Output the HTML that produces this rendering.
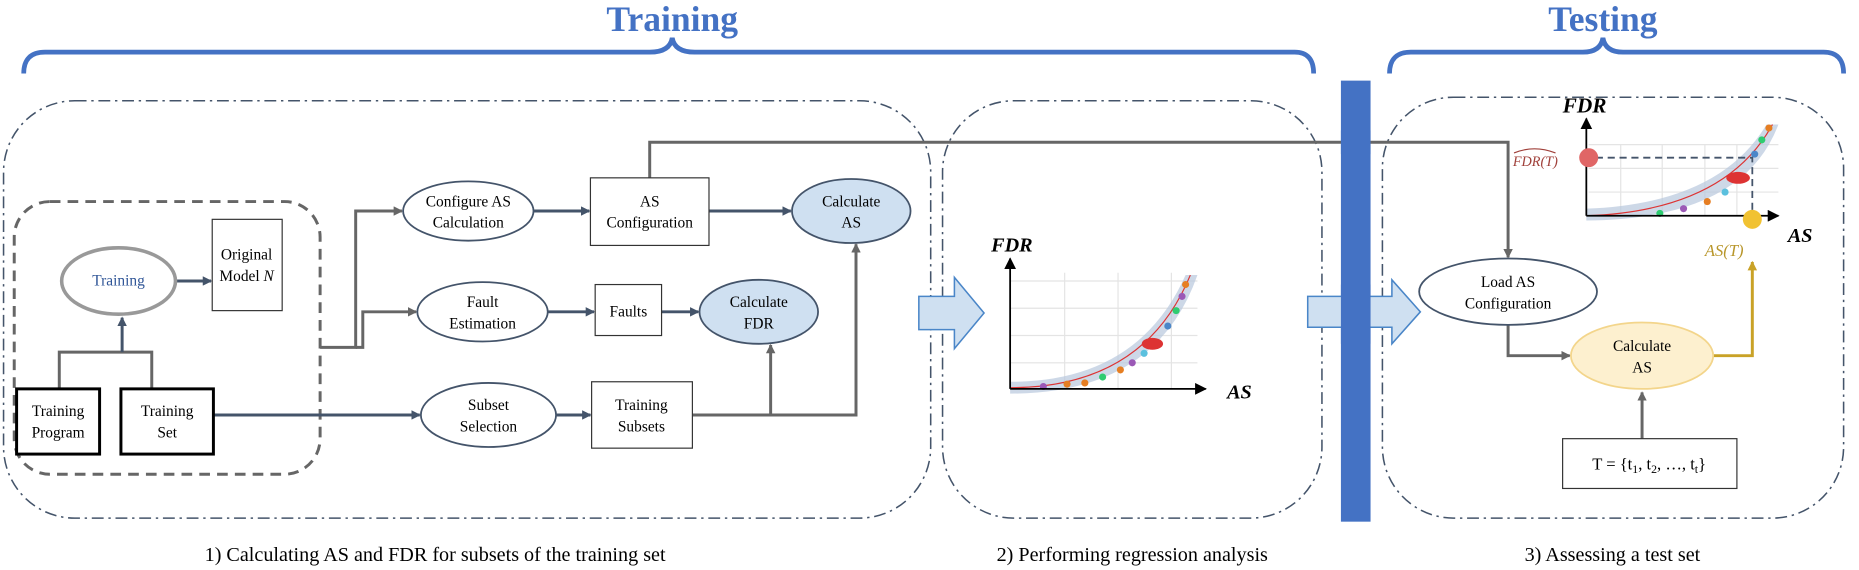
<!DOCTYPE html>
<html><head><meta charset="utf-8"><style>
body{margin:0;background:#fff}
svg{display:block}
text{font-family:"Liberation Serif",serif}
</style></head><body>
<svg width="1859" height="570" viewBox="0 0 1859 570" xmlns="http://www.w3.org/2000/svg">
<defs>
<marker id="ag" markerWidth="8" markerHeight="8" refX="7" refY="4" orient="auto" markerUnits="userSpaceOnUse"><path d="M0,0 L8,4 L0,8 z" fill="#666"/></marker>
<marker id="an" markerWidth="8" markerHeight="8" refX="7" refY="4" orient="auto" markerUnits="userSpaceOnUse"><path d="M0,0 L8,4 L0,8 z" fill="#44546a"/></marker>
<marker id="ak" markerWidth="10" markerHeight="10" refX="9" refY="5" orient="auto" markerUnits="userSpaceOnUse"><path d="M0,0 L10,5 L0,10 z" fill="#000"/></marker>
<marker id="ay" markerWidth="8" markerHeight="8" refX="7" refY="4" orient="auto" markerUnits="userSpaceOnUse"><path d="M0,0 L8,4 L0,8 z" fill="#c9a227"/></marker>
</defs>
<g transform="scale(1.1856)">
<text x="567" y="26" font-size="30" font-weight="bold" fill="#4472c4" text-anchor="middle">Training</text>
<text x="1352" y="26" font-size="30" font-weight="bold" fill="#4472c4" text-anchor="middle">Testing</text>
<path d="M20,62 Q20,44 38,44 L548,44 Q565,44 567,32 Q569,44 586,44 L1092,44 Q1108,44 1108,62" fill="none" stroke="#4472c4" stroke-width="4"/>
<path d="M1172,62 Q1172,44 1190,44 L1335,44 Q1350,44 1352,32 Q1354,44 1369,44 L1538,44 Q1555,44 1555,62" fill="none" stroke="#4472c4" stroke-width="4"/>

<g fill="none" stroke="#44546a" stroke-width="1.3" stroke-dasharray="10,4,2,4">
<rect x="3" y="85" width="782" height="352" rx="60"/>
<rect x="795" y="85" width="320" height="352" rx="60"/>
<rect x="1166" y="82" width="389" height="355" rx="60"/>
</g>
<rect x="1131" y="68" width="25" height="372" fill="#4472c4"/>

<rect x="12" y="170" width="258" height="230" rx="30" fill="none" stroke="#666" stroke-width="2.5" stroke-dasharray="9,6"/>

<g fill="none" stroke-width="2.5">
<path d="M50,328 V297 H128 V328" stroke="#666"/>
<path d="M103,297 V268" stroke="#44546a" marker-end="url(#an)"/>
<path d="M148,237 H178" stroke="#44546a" marker-end="url(#an)"/>
<path d="M270,293 H300 V178 H339" stroke="#666" marker-end="url(#ag)"/>
<path d="M300,293 H306 V263 H351" stroke="#666" marker-end="url(#ag)"/>
<path d="M180,350 H354" stroke="#44546a" marker-end="url(#an)"/>
<path d="M450,178 H497" stroke="#44546a" marker-end="url(#an)"/>
<path d="M598,178 H667" stroke="#44546a" marker-end="url(#an)"/>
<path d="M462,263 H501" stroke="#44546a" marker-end="url(#an)"/>
<path d="M558,263 H589" stroke="#44546a" marker-end="url(#an)"/>
<path d="M469,350 H498" stroke="#44546a" marker-end="url(#an)"/>
<path d="M584,350 H722 V206" stroke="#666" marker-end="url(#ag)"/>
<path d="M650,350 V291" stroke="#666" marker-end="url(#ag)"/>
<path d="M548,150 V120 H1272 V217" stroke="#666" marker-end="url(#ag)"/>
<path d="M1272,274 V300 H1324" stroke="#666" marker-end="url(#ag)"/>
<path d="M1385,370 V331" stroke="#666" marker-end="url(#ag)"/>
<path d="M1445,300 H1478 V221" stroke="#c9a227" marker-end="url(#ay)"/>
</g>
<rect x="1131" y="110" width="25" height="20" fill="#4472c4"/>

<g stroke="#44546a" stroke-width="1.5" fill="#fff">
<ellipse cx="100" cy="237" rx="48" ry="28" stroke="#999" stroke-width="3"/>
<rect x="179" y="185" width="59" height="77" stroke="#333" stroke-width="1"/>
<rect x="14" y="328" width="70" height="55" stroke="#000" stroke-width="2.5"/>
<rect x="102" y="328" width="78" height="55" stroke="#000" stroke-width="2.5"/>
<ellipse cx="395" cy="178" rx="55" ry="25"/>
<rect x="498" y="150" width="100" height="57" stroke="#333" stroke-width="1"/>
<ellipse cx="718" cy="178" rx="50" ry="27" fill="#cfe0f1"/>
<ellipse cx="407" cy="263" rx="55" ry="25"/>
<rect x="502" y="240" width="56" height="43" stroke="#333" stroke-width="1"/>
<ellipse cx="640" cy="263" rx="50" ry="27" fill="#cfe0f1"/>
<ellipse cx="412" cy="350" rx="57" ry="27"/>
<rect x="499" y="322" width="85" height="56" stroke="#333" stroke-width="1"/>
<ellipse cx="1272" cy="246" rx="75" ry="28"/>
<ellipse cx="1385" cy="300" rx="60" ry="28" fill="#fdf0cf" stroke="#f3d58b"/>
<rect x="1318" y="370" width="147" height="42" stroke="#333" stroke-width="1"/>
</g>

<g font-size="13" text-anchor="middle" fill="#000">
<text x="100" y="241" fill="#2f5597">Training</text>
<text x="208" y="219">Original</text><text x="208" y="237">Model <tspan font-style="italic">N</tspan></text>
<text x="49" y="351">Training</text><text x="49" y="369">Program</text>
<text x="141" y="351">Training</text><text x="141" y="369">Set</text>
<text x="395" y="174">Configure AS</text><text x="395" y="192">Calculation</text>
<text x="548" y="174">AS</text><text x="548" y="192">Configuration</text>
<text x="718" y="174">Calculate</text><text x="718" y="192">AS</text>
<text x="407" y="259">Fault</text><text x="407" y="277">Estimation</text>
<text x="530" y="267">Faults</text>
<text x="640" y="259">Calculate</text><text x="640" y="277">FDR</text>
<text x="412" y="346">Subset</text><text x="412" y="364">Selection</text>
<text x="541" y="346">Training</text><text x="541" y="364">Subsets</text>
<text x="1272" y="242">Load AS</text><text x="1272" y="260">Configuration</text>
<text x="1385" y="296">Calculate</text><text x="1385" y="314">AS</text>
<text x="1391" y="396" font-size="14">T = {t<tspan font-size="10" dy="3">1</tspan><tspan dy="-3">, t</tspan><tspan font-size="10" dy="3">2</tspan><tspan dy="-3">, …, t</tspan><tspan font-size="10" dy="3">t</tspan><tspan dy="-3">}</tspan></text>
</g>

<path d="M775,250 H805 V234 L830,264 L805,294 V278 H775 Z" fill="#cfe0f1" stroke="#4a86c8" stroke-width="1.3"/>
<path d="M1103,250 H1174 V236 L1198,263 L1174,290 V276 H1103 Z" fill="#cfe0f1" stroke="#4a86c8" stroke-width="1.3"/>
<rect x="1131" y="240" width="25" height="50" fill="#4472c4"/>

<g stroke="#e4e4e4" stroke-width="1">
<path d="M852,237 H1010 M852,260 H1010 M852,283 H1010 M852,306 H1010 M898,230 V328 M943,230 V328 M988,230 V328"/>
</g>
<path d="M852,322 Q960,322 1000,232 L1010,232 Q975,332 852,332 Z" fill="#b8c7dd" opacity="0.7"/>
<path d="M852,327 Q965,327 1004,232" fill="none" stroke="#d33" stroke-width="1"/>
<g>
<circle cx="880" cy="326" r="3" fill="#9b59b6"/><circle cx="900" cy="324" r="3" fill="#e67e22"/><circle cx="915" cy="323" r="3" fill="#e67e22"/>
<circle cx="930" cy="318" r="3" fill="#2ecc71"/><circle cx="945" cy="312" r="3" fill="#e67e22"/><circle cx="955" cy="306" r="3" fill="#9b59b6"/>
<circle cx="965" cy="298" r="3" fill="#5bc0de"/><ellipse cx="972" cy="290" rx="9" ry="5" fill="#d33"/><circle cx="985" cy="275" r="3" fill="#4a86c8"/>
<circle cx="992" cy="262" r="3" fill="#2ecc71"/><circle cx="997" cy="250" r="3" fill="#9b59b6"/><circle cx="1000" cy="240" r="3" fill="#e67e22"/>
</g>
<path d="M852,328 V218" stroke="#000" stroke-width="1.5" marker-end="url(#ak)"/>
<path d="M852,328 H1017" stroke="#000" stroke-width="1.5" marker-end="url(#ak)"/>
<text x="836" y="212" font-size="17" font-weight="bold" font-style="italic">FDR</text>
<text x="1035" y="336" font-size="17" font-weight="bold" font-style="italic">AS</text>

<g stroke="#e4e4e4"><path d="M1340,122 H1500 M1340,142 H1500 M1340,162 H1500 M1367,122 V182 M1402,122 V182 M1438,122 V182 M1465,122 V182"/></g>
<path d="M1338,176 Q1450,172 1490,105 L1500,105 Q1470,185 1338,186 Z" fill="#b8c7dd" opacity="0.7"/>
<path d="M1338,182 Q1455,178 1495,105" fill="none" stroke="#d33" stroke-width="1"/>
<ellipse cx="1466" cy="150" rx="10" ry="5" fill="#d33"/>
<circle cx="1480" cy="130" r="3" fill="#4a86c8"/><circle cx="1486" cy="118" r="3" fill="#2ecc71"/><circle cx="1492" cy="108" r="3" fill="#e67e22"/>
<circle cx="1455" cy="162" r="3" fill="#5bc0de"/><circle cx="1440" cy="170" r="3" fill="#e67e22"/><circle cx="1420" cy="176" r="3" fill="#9b59b6"/><circle cx="1400" cy="180" r="3" fill="#2ecc71"/>
<path d="M1338,182 V100" stroke="#000" stroke-width="1.5" marker-end="url(#ak)"/>
<path d="M1338,182 H1500" stroke="#000" stroke-width="1.5" marker-end="url(#ak)"/>
<path d="M1346,133 H1478 V180" fill="none" stroke="#44546a" stroke-width="1.5" stroke-dasharray="6,4"/>
<circle cx="1340" cy="133" r="8" fill="#e06666"/>
<circle cx="1478" cy="185" r="8" fill="#f1c232"/>
<text x="1318" y="95" font-size="18" font-weight="bold" font-style="italic">FDR</text>
<text x="1508" y="204" font-size="17" font-weight="bold" font-style="italic">AS</text>
<text x="1276" y="140" font-size="12" font-style="italic" fill="#a0403a">FDR(T)</text>
<path d="M1277,129 Q1294,122 1312,129" fill="none" stroke="#a0403a" stroke-width="1"/>
<text x="1438" y="216" font-size="14" font-style="italic" fill="#b8962a">AS(T)</text>

<g font-size="17" text-anchor="middle">
<text x="367" y="473">1) Calculating AS and FDR for subsets of the training set</text>
<text x="955" y="473">2) Performing regression analysis</text>
<text x="1360" y="473">3) Assessing a test set</text>
</g>
</g>
</svg>
</body></html>
